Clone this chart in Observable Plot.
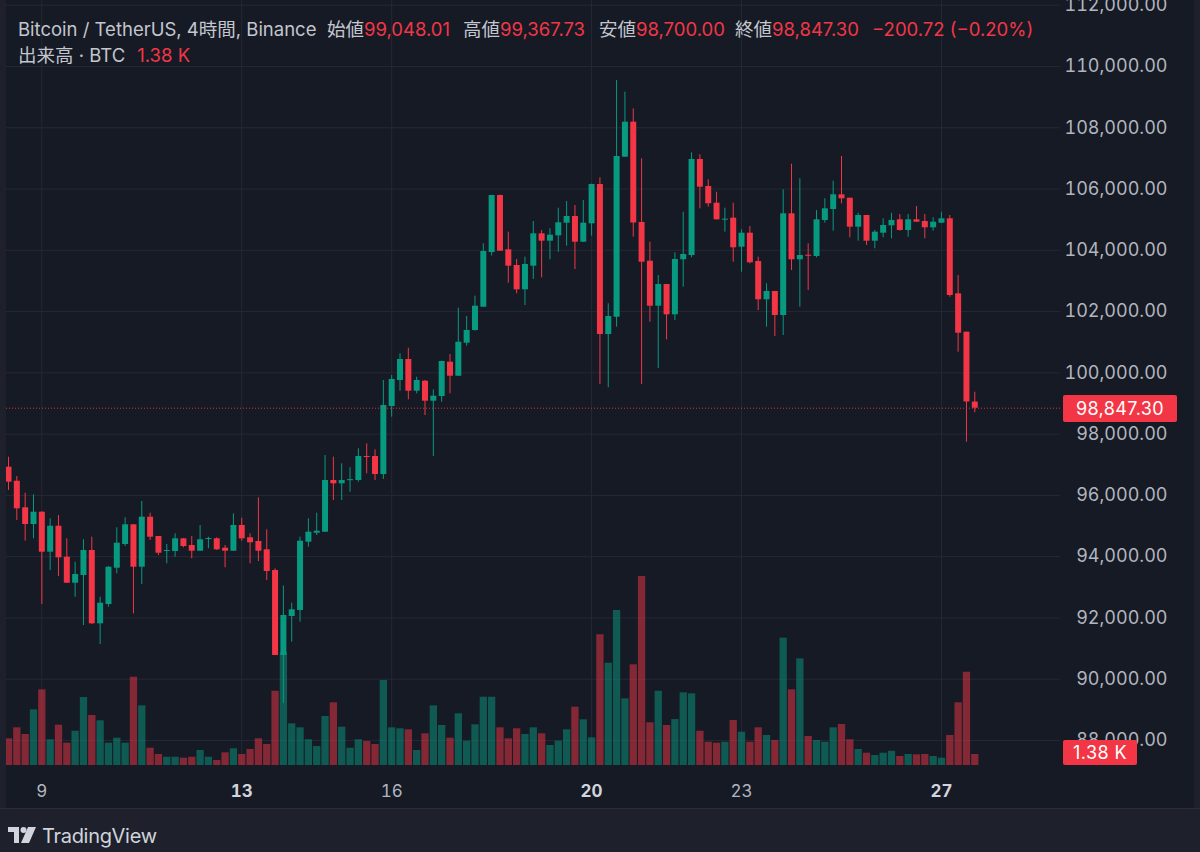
<!DOCTYPE html>
<html><head><meta charset="utf-8">
<script src="https://cdn.jsdelivr.net/npm/d3@7"></script>
<script src="https://cdn.jsdelivr.net/npm/@observablehq/plot@0.6"></script>
<style>
html,body{margin:0;padding:0;width:1200px;height:852px;overflow:hidden;background:#1e212c;font-family:Inter,"Noto Sans CJK JP",sans-serif;}
#panel{position:absolute;left:6px;top:0;width:1188px;height:808px;background:#161a25;overflow:hidden;}
#panel > div.layer{position:absolute;left:0;top:0;}
#panel svg{display:block;}
.hdr{position:absolute;font-size:18.5px;color:#c3c6ce;white-space:nowrap;line-height:20px;}
.hdr .v{color:#f23645;}
.tag{position:absolute;color:#fff;font-size:18px;letter-spacing:0.4px;text-align:center;border-radius:2px;background:#f23645;line-height:27px;}
#footer{position:absolute;left:0;top:808px;width:1200px;height:44px;border-top:1px solid #2a2e39;box-sizing:border-box;}
#logo{position:absolute;left:8px;top:16px;}
#brand{position:absolute;left:42px;top:15px;font-size:20px;color:#d1d4dc;letter-spacing:-0.3px;}
</style></head>
<body>
<div id="panel"></div>
<div class="hdr" style="left:18px;top:19px;">Bitcoin / TetherUS, 4時間, Binance</div>
<div class="hdr" style="left:327px;top:19px;">始値<span class="v" id="hO"></span></div>
<div class="hdr" style="left:463px;top:19px;">高値<span class="v" id="hH"></span></div>
<div class="hdr" style="left:599px;top:19px;">安値<span class="v" id="hL"></span></div>
<div class="hdr" style="left:735px;top:19px;">終値<span class="v" id="hC"></span></div>
<div class="hdr" style="left:872px;top:19px;"><span class="v" id="hChg"></span></div>
<div class="hdr" style="left:18px;top:45px;">出来高 · BTC<span class="v" id="hV" style="margin-left:12px;"></span></div>
<div id="footer">
  <svg id="logo" width="30" height="20" viewBox="0 0 30 20"><path d="M0 2h11v16H6V7H0z" fill="#d1d4dc"/><circle cx="15.5" cy="5" r="3" fill="#d1d4dc"/><path d="M20 2h8l-7 16h-8z" fill="#d1d4dc"/></svg>
  <div id="brand">TradingView</div>
</div>
<script>
// ---- data (Binance BTC/USDT, 4h candles) ----
const open = [96921,96464,95596,95051,95452,94147,94995,93984,93135,93386,
94202,91810,92440,93625,94398,95041,93657,95289,94659,94170,
94170,94584,94365,94179,94568,94584,94277,94179,95018,94617,
94496,94225,93549,90775,92048,92244,94473,94767,94800,96487,
96379,96487,96487,97270,97270,96683,98902,99751,100436,99402,
99728,99075,99229,100348,99891,100969,101383,102144,103929,105789,
104017,103505,102711,103482,104539,104298,104474,104885,105104,104265,
104866,106148,101252,101817,107040,108182,104908,103645,102176,102884,
101895,103691,103831,106964,106083,105538,104990,105049,104102,104559,
103635,102385,102656,101873,105192,103691,103831,103798,104973,105332,
105812,105701,104755,105137,104298,104559,104800,104996,104647,104996,
104941,104735,104885,105029,102581,101328,99048.01];
const high = [97248,96618,96072,96020,95470,95237,95345,94584,93820,94552,
94636,92678,93680,94943,95270,95050,95802,95420,94660,94398,
94747,94590,94660,95018,94636,94617,94365,95400,95257,94747,
95922,94878,93604,93043,92482,94636,95237,95420,97303,97248,
97032,96902,97522,97685,97489,99751,99914,100622,100805,99859,
99751,99447,100380,100600,102111,101840,102503,104213,105790,105800,
104592,103700,103776,104941,104647,104703,105375,105594,105463,105626,
106160,106367,102255,109543,109161,108619,106987,104265,103178,102890,
103919,105244,107183,107118,106302,105897,105375,105538,104670,104778,
103776,102907,102660,105976,106811,106335,104213,105300,105682,106256,
107062,105701,105212,105140,104647,105029,105212,105169,105169,105430,
105169,105062,105244,105137,103178,101330,99367.73];
const low = [96161,95181,94506,94584,92440,93549,93354,93125,92678,91754,
91790,91134,92352,93442,94333,92136,93092,94529,94039,93768,
93984,94290,93931,94170,94258,94202,93638,94170,94506,93768,
93843,93223,90770,89208,91209,91862,94310,94692,94790,95834,
95834,96105,96432,96706,96487,96520,98553,99402,99121,99317,
98609,97270,99043,99317,99880,100871,101360,102130,103815,103960,
102927,102581,102199,103048,103103,103691,103939,104135,103374,104255,
104461,99620,99513,101491,107030,104428,99620,101654,100143,101079,
101709,102796,103756,105355,105408,104990,104592,103612,103286,103560,
102036,101491,101187,101220,103341,102144,102689,103756,104885,104624,
105519,104409,104298,104157,104050,104409,104376,104630,104428,104910,
104376,104624,104870,102470,100675,97737,98700.00];
const close = [96432,95563,95051,95452,94147,94995,93964,93135,93419,94202,
91810,92482,93657,94441,95041,93657,95289,94636,94114,94202,
94584,94333,94179,94552,94584,94225,94179,95018,94584,94454,
94179,93517,90775,92081,92267,94506,94800,94832,96487,96379,
96487,96510,97270,97237,96683,98935,99784,100436,99402,99751,
99075,99239,100371,99891,101001,101383,102176,103962,105789,103971,
103482,102711,103537,104539,104298,104494,104898,105104,104265,104885,
106148,101252,101840,107062,108182,104892,103612,102176,102884,101895,
103700,103864,106964,106060,105519,104996,105010,104082,104559,103593,
102385,102656,101873,105192,103691,103831,103815,104996,105355,105812,
105682,104755,105137,104298,104592,104810,104973,104647,104996,104918,
104735,104918,105029,102525,101295,99050,98847.30];
// volume in thousands of BTC
const volumeK = [3.35,4.73,3.89,6.99,9.50,3.23,5.06,2.80,4.30,8.53,
6.28,5.61,2.80,3.43,2.80,11.08,7.49,2.17,1.38,1.04,
1.04,0.92,1.04,1.88,1.04,0.63,1.59,2.10,1.38,2.01,
3.35,2.64,9.32,14.18,5.23,4.73,3.23,2.38,6.15,7.87,
4.81,2.17,3.23,3.01,2.64,10.67,4.73,4.61,4.48,1.88,
3.98,7.49,5.02,3.43,6.49,3.05,5.11,8.57,8.57,4.73,
3.35,4.61,3.89,4.73,3.98,2.51,3.05,4.48,7.32,5.74,
3.48,16.40,12.84,19.45,8.37,12.64,23.72,5.36,9.32,5.02,
5.77,9.12,9.00,4.30,2.92,2.80,2.92,5.65,4.18,2.92,
4.73,3.77,3.14,15.98,9.50,13.39,3.64,3.14,2.92,4.73,
5.15,3.23,2.01,1.54,1.26,1.54,1.79,1.13,1.38,1.34,
1.38,1.13,0.92,3.77,7.87,11.71,1.38];
// x-axis: candle index of each labelled day (January 2025)
const dayTickIndex = [4, 28, 46, 70, 88, 112];
const dayTickLabel = ["9", "13", "16", "20", "23", "27"];
const boldDays = ["13", "20", "27"];
const priceTicks = [88000,90000,92000,94000,96000,98000,100000,102000,104000,106000,108000,110000,112000];
const changeAbs = -200.72, changePct = -0.20;

// ---- build table ----
const GREEN = "#089981", RED = "#f23645";
const table = open.map((o, i) => {
  const c = close[i];
  let hi = Math.max(o, c), lo = Math.min(o, c);
  if (hi - lo < 34) { const m = (hi + lo) / 2; hi = m + 17; lo = m - 17; }
  return {i, open: o, high: high[i], low: low[i], close: c, vol: volumeK[i], up: c >= o, bodyHi: hi, bodyLo: lo};
});
const last = table[table.length - 1];

const W = 1188, H = 808;
const xDomain = [-0.24, 126.29];
const common = {width: W, height: H, marginLeft: 0, marginRight: 134, marginBottom: 43,
  style: {background: "transparent", overflow: "visible", fontFamily: "Inter, sans-serif"}};
const labelOf = new Map(dayTickIndex.map((d, k) => [d, dayTickLabel[k]]));
const normalTicks = dayTickIndex.filter(d => !boldDays.includes(labelOf.get(d)));
const strongTicks = dayTickIndex.filter(d => boldDays.includes(labelOf.get(d)));
const yDomain = [87185, 112154];
const fmt2 = d3.format(",.2f");

const base = Plot.plot({...common, marginTop: 0, x: {domain: xDomain}, y: {domain: yDomain},
  marks: [
    Plot.gridY(priceTicks, {stroke: "#252935", strokeOpacity: 1}),
    Plot.gridX(dayTickIndex, {stroke: "#252935", strokeOpacity: 1}),
    Plot.axisY(priceTicks, {anchor: "right", tickSize: 0, tickPadding: 0, textAnchor: "end", dx: 107,
      tickFormat: fmt2, fill: "#b2b5be", fontSize: 18, letterSpacing: "0.4px"}),
    Plot.axisX(normalTicks, {anchor: "bottom", tickSize: 0, tickPadding: 19, tickFormat: d => labelOf.get(d), fill: "#b2b5be", fontSize: 17}),
    Plot.axisX(strongTicks, {anchor: "bottom", tickSize: 0, tickPadding: 19, tickFormat: d => labelOf.get(d), fill: "#d1d4dc", fontSize: 17, fontWeight: "bold"})
  ]});

const volPlot = Plot.plot({...common, marginTop: 526, x: {domain: xDomain, axis: null}, y: {domain: [0, 30], axis: null},
  color: {type: "identity"},
  marks: [
    Plot.ruleX(table, {x: "i", y1: 0, y2: "vol", stroke: d => d.up ? GREEN : RED, strokeOpacity: 0.5, strokeWidth: 7.3})
  ]});

const candles = Plot.plot({...common, marginTop: 0, x: {domain: xDomain, axis: null}, y: {domain: yDomain, axis: null},
  color: {type: "identity"},
  marks: [
    Plot.ruleX(table, {x: "i", y1: "low", y2: "high", stroke: d => d.up ? GREEN : RED, strokeWidth: 1}),
    Plot.ruleX(table, {x: "i", y1: "bodyLo", y2: "bodyHi", stroke: d => d.up ? GREEN : RED, strokeWidth: 6}),
    Plot.ruleY([last.close], {stroke: RED, strokeDasharray: "1,2", strokeWidth: 1, strokeOpacity: 0.9})
  ]});

const panel = document.getElementById("panel");
for (const p of [base, volPlot, candles]) {
  const d = document.createElement("div"); d.className = "layer"; d.appendChild(p); panel.appendChild(d);
}
// right-axis tags
const yP = candles.scale("y"), yV = volPlot.scale("y");
const tag1 = document.createElement("div"); tag1.className = "tag";
tag1.textContent = fmt2(last.close);
Object.assign(tag1.style, {left: "1057px", width: "114px", height: "27px", top: (yP.apply(last.close) + 1 - 13.5) + "px"});
panel.appendChild(tag1);
const volFmt = v => v.toFixed(2) + " K";
const tag2 = document.createElement("div"); tag2.className = "tag";
tag2.textContent = volFmt(last.vol);
Object.assign(tag2.style, {left: "1057px", width: "74px", height: "25px", lineHeight: "25px", top: (yV.apply(last.vol) - 1.5 - 12.5) + "px"});
panel.appendChild(tag2);
// header values
const minus = s => s.replace("-", "−");
document.getElementById("hO").textContent = fmt2(last.open);
document.getElementById("hH").textContent = fmt2(last.high);
document.getElementById("hL").textContent = fmt2(last.low);
document.getElementById("hC").textContent = fmt2(last.close);
document.getElementById("hChg").textContent = minus(fmt2(changeAbs)) + " (" + minus(changePct.toFixed(2)) + "%)";
document.getElementById("hV").textContent = volFmt(last.vol);
</script>
</body></html>
